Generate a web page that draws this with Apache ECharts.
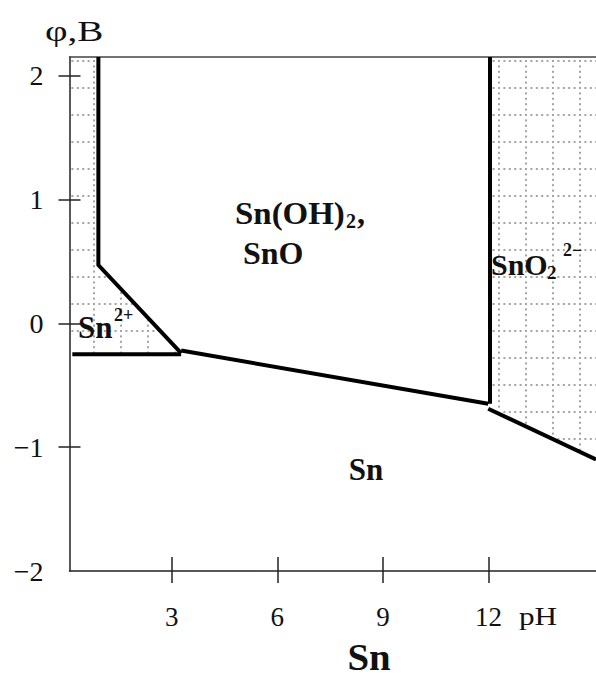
<!DOCTYPE html>
<html><head><meta charset="utf-8">
<script src="https://cdn.jsdelivr.net/npm/echarts@6/dist/echarts.min.js"></script>
<style>html,body{margin:0;padding:0;background:#fff}#c{width:596px;height:677px}</style>
</head><body><div id="c"></div>
<script>
// axis ticks / labels
const xTicks = [3, 6, 9, 12];
const yTicks = [-1, 0, 1, 2];
const yLabels = [-2, -1, 0, 1, 2];
const xRange = [0.1, 15.05];
const yRange = [-2, 2.15];

// boundary lines [pH, φ (V)]
const lineSn2SnO = [[0.92, 2.15], [0.92, 0.47], [3.27, -0.24]];
const lineSnSn2 = [[0.18, -0.25], [3.27, -0.25]];
const lineSnSnO = [[3.27, -0.22], [11.99, -0.65]];
const lineSnOSnO2 = [[12.04, 2.15], [12.04, -0.65]];
const lineSnSnO2 = [[11.99, -0.69], [15.05, -1.10]];

// hatched (ionic species) regions
const regionSn2 = [[0.1, 2.15], [0.92, 2.15], [0.92, 0.47], [3.27, -0.25], [0.1, -0.25]];
const regionSnO2 = [[12.04, 2.15], [15.05, 2.15], [15.05, -1.10], [12.04, -0.67]];
const regions = [regionSn2, regionSnO2];
const boundaries = [lineSn2SnO, lineSnSn2, lineSnSnO, lineSnOSnO2, lineSnSnO2];

// dotted grid pattern
const pc = document.createElement('canvas');
pc.width = 27; pc.height = 27;
const g = pc.getContext('2d');
g.fillStyle = '#a4a4a4';
for (let k = 0; k < 5; k++) {
  const d = (6 + k * 5.4) % 27;
  g.fillRect(12, d, 2, 2);
  const e = (12 + k * 5.4) % 27;
  g.fillRect(e, 6, 2, 2);
}
const pattern = { image: pc, repeat: 'repeat' };

const serif = '"Liberation Serif", "DejaVu Serif", serif';
const minus = v => String(v).replace('-', '\u2212');

const chart = echarts.init(document.getElementById('c'), null, { renderer: 'svg' });

function txt(x, y, text, size, bold, sx, center) {
  return {
    type: 'text', x: x, y: y, z: 100, scaleX: sx || 1,
    style: {
      text: text, fill: '#111',
      font: (bold ? 'bold ' : '') + size + 'px ' + serif,
      align: center ? 'center' : 'left', verticalAlign: 'middle',
      textAlign: center ? 'center' : 'left', textVerticalAlign: 'middle'
    }
  };
}

const axisBase = { type: 'value', gridIndex: 0, splitLine: { show: false } };

chart.setOption({
  animation: false,
  backgroundColor: '#fff',
  grid: { left: 69.5, right: 0, top: 57, bottom: 106 },
  xAxis: [
    Object.assign({}, axisBase, {
      min: xRange[0], max: xRange[1], position: 'bottom',
      axisLine: { show: true, onZero: false, lineStyle: { color: '#222', width: 1.5 } },
      axisTick: { show: true, customValues: xTicks, length: 12, lineStyle: { color: '#222', width: 1.5 } },
      axisLabel: { show: true, customValues: xTicks, margin: 32, color: '#111', fontSize: 27, fontFamily: serif }
    }),
    Object.assign({}, axisBase, {
      min: xRange[0], max: xRange[1], position: 'bottom',
      axisLine: { show: false, onZero: false },
      axisTick: { show: true, inside: true, customValues: xTicks, length: 14, lineStyle: { color: '#222', width: 1.5 } },
      axisLabel: { show: false }
    }),
    Object.assign({}, axisBase, {
      min: xRange[0], max: xRange[1], position: 'top',
      axisLine: { show: true, onZero: false, lineStyle: { color: '#444', width: 1.5 } },
      axisTick: { show: false }, axisLabel: { show: false }
    })
  ],
  yAxis: [
    Object.assign({}, axisBase, {
      min: yRange[0], max: yRange[1], position: 'left',
      axisLine: { show: true, onZero: false, lineStyle: { color: '#222', width: 1.5 } },
      axisTick: { show: true, customValues: yTicks, length: 11, lineStyle: { color: '#222', width: 1.5 } },
      axisLabel: { show: true, customValues: yLabels, margin: 26, color: '#111', fontSize: 28, fontFamily: serif, formatter: minus, padding: [0, 0, 6, 0] }
    }),
    Object.assign({}, axisBase, {
      min: yRange[0], max: yRange[1], position: 'left',
      axisLine: { show: false, onZero: false },
      axisTick: { show: true, inside: true, customValues: yTicks, length: 11, lineStyle: { color: '#222', width: 1.5 } },
      axisLabel: { show: false }
    })
  ],
  series: [
    {
      type: 'custom', xAxisIndex: 0, yAxisIndex: 0, z: 1,
      data: regions.map((r, i) => [i]),
      renderItem: function (params, api) {
        const pts = regions[params.dataIndex].map(p => api.coord(p));
        return { type: 'polygon', shape: { points: pts }, style: { fill: pattern } };
      },
      silent: true
    }
  ].concat(boundaries.map(b => ({
    type: 'line', xAxisIndex: 0, yAxisIndex: 0, z: 5,
    data: b, symbol: 'none', silent: true,
    lineStyle: { color: '#000', width: 4, cap: 'butt', join: 'miter' }
  }))),
  graphic: [
    txt(45, 31, 'φ,B', 29, false, 1.35),
    txt(235, 213, 'Sn(OH)', 32, true, 1.03),
    txt(346, 221, '2', 20, true),
    txt(357, 213, ',', 32, true),
    txt(243, 253, 'SnO', 32, true),
    txt(78, 327, 'Sn', 31, true),
    txt(114, 315, '2+', 18, true),
    txt(491, 264.5, 'SnO', 30, true),
    txt(547, 272.5, '2', 19, true),
    txt(563, 250, '2\u2212', 18, true),
    txt(366, 469, 'Sn', 31, true, 1, true),
    txt(538, 615.5, 'pH', 26, false, 1.2, true),
    txt(369, 657, 'Sn', 37, true, 1.05, true)
  ]
});
</script></body></html>
